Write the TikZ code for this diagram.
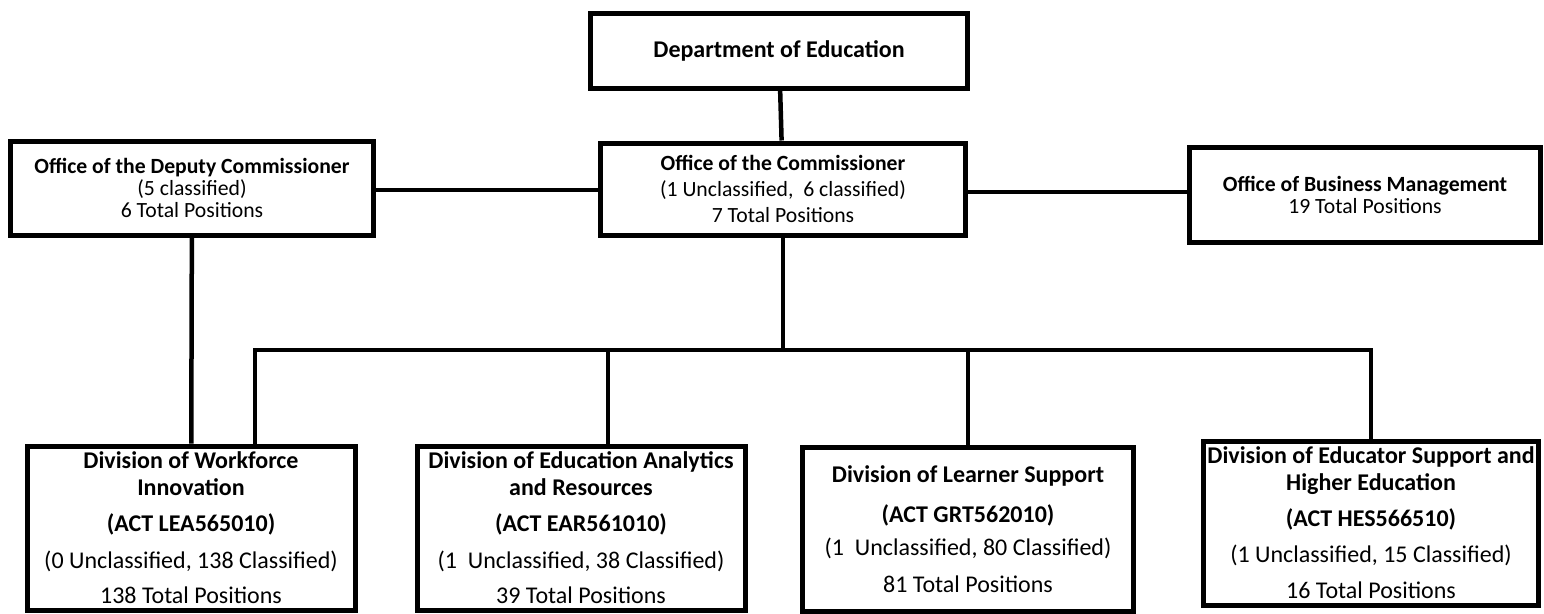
\documentclass[tikz,border=0pt]{standalone}
\usepackage{fontspec}
\setmainfont{Carlito}
\begin{document}
\begin{tikzpicture}[x=1pt, y=-1pt,
    topbox/.style={draw, line width=5pt, align=center, inner sep=0pt,
        font=\fontsize{21.7}{22}\selectfont},
    divbox/.style={draw, line width=5pt, align=center, inner sep=0pt,
        minimum height=164pt, font=\fontsize{24}{27}\selectfont},
    link/.style={line width=4.5pt},
    sidelink/.style={line width=3.5pt}]
    \useasboundingbox (0,0) rectangle (1544,613);

    % top offices
    \node[topbox, minimum width=377pt, minimum height=75pt, font=\fontsize{24}{27}\selectfont] (dept) at (779,51)
        {\textbf{Department of Education}};
    \node[topbox, minimum width=365pt, minimum height=92pt, font=\fontsize{21.7}{26}\selectfont] (comm) at (783,189)
        {\textbf{Office of the Commissioner}\\(1 Unclassified,\ \ 6 classified)\\7 Total Positions};
    \node[topbox, minimum width=363pt, minimum height=94pt] (deputy) at (192,188)
        {\textbf{Office of the Deputy Commissioner}\\(5 classified)\\6 Total Positions};
    \node[topbox, minimum width=351pt, minimum height=95pt] (business) at (1365,195)
        {\textbf{Office of Business Management}\\19 Total Positions};

    % divisions
    \node[divbox, minimum width=328pt] (workforce) at (191,528)
        {\textbf{Division of Workforce}\\\textbf{Innovation}\\[9pt]\textbf{(ACT LEA565010)}\\[10pt]
         (0 Unclassified, 138 Classified)\\[8pt]138 Total Positions};
    \node[divbox, minimum width=328pt] (analytics) at (581,528)
        {\textbf{Division of Education Analytics}\\\textbf{and Resources}\\[9pt]\textbf{(ACT EAR561010)}\\[10pt]
         (1\ \ Unclassified, 38 Classified)\\[8pt]39 Total Positions};
    \node[divbox, minimum width=331pt] (learner) at (968,529)
        {\textbf{Division of Learner Support}\\[13pt]\textbf{(ACT GRT562010)}\\[6pt]
         (1\ \ Unclassified, 80 Classified)\\[10pt]81 Total Positions};
    \node[divbox, minimum width=335pt] (educator) at (1371,523)
        {\textbf{Division of Educator Support and}\\\textbf{Higher Education}\\[9pt]\textbf{(ACT HES566510)}\\[9pt]
         (1 Unclassified, 15 Classified)\\[9pt]16 Total Positions};

    % connectors
    \coordinate (bus) at (783,350);
    \coordinate (busL) at (255,350);
    \coordinate (busA) at (608,350);
    \draw[link] (dept) -- (comm);
    \draw[sidelink] (deputy.east |- 0,190) -- (comm.west |- 0,190);
    \draw[sidelink] (comm.east |- 0,192) -- (business.west |- 0,192);
    \draw[link] (deputy) -- (workforce);
    \draw[link] (comm) -- (bus);
    \draw[link] (busL |- workforce.north) -- (busL) -- (educator.north |- bus) -- (educator.north);
    \draw[link] (busA) -- (busA |- analytics.north);
    \draw[link] (learner.north |- bus) -- (learner.north);
\end{tikzpicture}
\end{document}
